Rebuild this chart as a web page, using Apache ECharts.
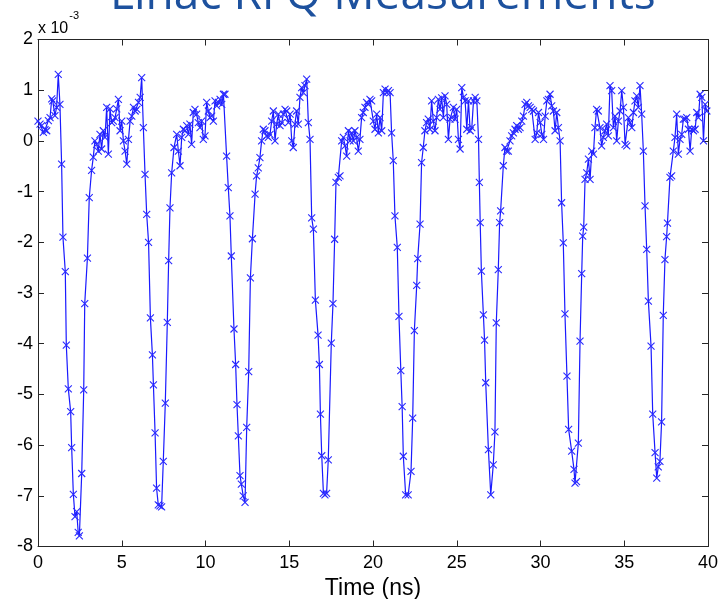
<!DOCTYPE html>
<html>
<head>
<meta charset="utf-8">
<script src="https://cdn.jsdelivr.net/npm/echarts@6/dist/echarts.min.js"></script>
<style>
html,body{margin:0;padding:0;background:#fff;}
#chart{width:720px;height:599px;}
</style>
</head>
<body>
<div id="chart"></div>
<script>
// Time (ns)
const time = [
0.00,0.12,0.22,0.32,0.42,0.52,0.62,0.72,0.82,0.88,1.01,1.11,1.21,1.31,1.41,
1.49,1.63,1.69,1.81,1.95,2.01,2.11,2.21,2.31,2.40,2.47,2.61,2.73,2.79,2.95,3.06,
3.20,3.30,3.40,3.50,3.60,3.70,3.80,3.90,4.00,4.10,4.20,4.30,4.40,4.50,4.60,4.70,4.80,4.90,5.00,5.10,5.20,5.30,5.40,5.50,5.60,5.70,5.80,5.90,6.00,6.10,6.19,6.29,6.39,6.49,
6.60,6.71,6.83,6.89,6.99,7.08,7.18,7.28,7.38,7.48,7.60,7.72,7.80,7.88,7.98,
8.12,8.28,8.38,8.48,8.58,8.68,8.78,8.88,8.98,9.07,9.17,9.27,9.37,9.47,9.57,9.67,9.77,9.87,9.97,10.07,10.17,10.27,10.37,10.47,10.57,10.67,10.77,10.87,10.97,11.07,11.16,11.26,11.36,11.46,
11.54,11.70,11.80,11.88,11.96,12.06,12.14,12.25,12.36,12.46,12.58,12.68,12.80,12.96,
13.05,13.15,13.25,13.35,13.45,13.55,13.65,13.75,13.85,13.95,14.05,14.15,14.25,14.35,14.45,14.55,14.65,14.75,14.85,14.95,15.05,15.15,15.24,15.34,15.44,15.54,15.64,15.74,15.84,15.94,16.04,16.14,16.24,16.34,16.44,
16.56,16.72,16.80,16.86,16.94,17.04,17.13,17.23,17.33,17.51,17.61,17.71,17.79,
17.93,18.03,18.13,18.23,18.33,18.43,18.53,18.63,18.73,18.83,18.92,19.02,19.12,19.22,19.32,19.42,19.52,19.62,19.72,19.82,19.92,20.02,20.12,20.22,20.32,20.42,20.52,20.62,20.72,20.82,20.92,21.02,21.11,21.21,21.31,21.45,
21.55,21.66,21.74,21.81,21.95,22.10,22.27,22.37,22.47,22.61,22.67,22.81,22.90,
23.00,23.10,23.20,23.30,23.40,23.50,23.60,23.70,23.80,23.90,24.00,24.10,24.20,24.30,24.40,24.50,24.60,24.70,24.80,24.90,25.00,25.10,25.20,25.30,25.40,25.50,25.60,25.70,25.80,25.90,26.00,26.10,26.20,26.30,26.35,26.40,
26.47,26.59,26.66,26.73,26.89,27.03,27.18,27.28,27.36,27.48,27.56,27.62,27.78,
27.88,27.98,28.08,28.18,28.28,28.38,28.48,28.58,28.68,28.78,28.88,28.98,29.08,29.18,29.28,29.38,29.48,29.58,29.68,29.78,29.88,29.98,30.08,30.18,30.28,30.38,30.47,30.57,30.67,30.77,30.87,30.97,31.07,31.17,31.26,31.36,
31.46,31.58,31.68,31.86,32.00,32.06,32.15,32.26,32.36,32.46,32.52,32.58,32.66,
32.76,32.86,32.96,33.06,33.16,33.25,33.35,33.45,33.55,33.65,33.75,33.85,33.95,34.05,34.15,34.25,34.35,34.45,34.55,34.65,34.75,34.85,34.95,35.05,35.15,35.25,35.35,35.45,35.55,35.64,35.74,35.84,35.94,36.04,36.14,36.24,36.34,
36.44,36.60,36.70,36.84,36.94,37.03,37.13,37.23,37.33,37.43,37.53,37.58,37.73,
37.83,37.93,38.03,38.13,38.23,38.33,38.43,38.53,38.63,38.73,38.83,38.93,39.03,39.13,39.23,39.33,39.43,39.53,39.63,39.73,39.83,39.93
];
// Signal (x 10^-3)
const signal = [
0.39,0.33,0.30,0.17,0.22,0.20,0.40,0.46,0.83,0.79,0.50,0.66,1.31,0.72,-0.46,
-1.90,-2.58,-4.03,-4.89,-5.34,-6.05,-6.97,-7.41,-7.31,-7.72,-7.79,-6.56,-4.91,-3.21,-2.31,-1.12,
-0.58,-0.32,0.00,-0.07,-0.20,0.13,-0.16,0.20,0.07,0.66,-0.26,0.63,0.36,0.39,0.46,0.63,0.82,0.20,0.39,0.00,-0.20,-0.46,0.03,0.39,0.49,0.66,0.59,0.62,0.76,0.86,1.25,0.26,-0.66,-1.45,
-2.00,-3.49,-4.22,-4.81,-5.76,-6.85,-7.18,-7.20,-7.22,-6.32,-5.17,-3.58,-2.36,-1.32,-0.63,
-0.13,0.13,-0.20,-0.49,0.07,0.23,0.20,0.30,0.13,0.33,-0.07,0.56,0.62,0.53,0.36,0.26,0.39,0.03,0.10,0.76,0.59,0.46,0.49,0.39,0.79,0.69,0.76,0.82,0.72,0.92,0.92,-0.30,-0.92,-1.48,
-2.27,-3.71,-4.41,-5.20,-5.82,-6.60,-6.77,-7.00,-7.13,-5.65,-4.55,-2.70,-1.93,-1.05,
-0.69,-0.53,-0.33,0.00,0.23,0.20,0.10,0.07,0.13,0.39,0.59,0.00,0.33,0.53,0.30,0.36,0.53,0.62,0.59,0.36,0.53,0.00,-0.13,0.33,0.59,0.33,0.86,1.05,0.95,1.09,1.22,0.36,0.03,-1.52,-1.74,
-3.14,-3.83,-4.41,-5.39,-6.21,-6.95,-6.98,-6.95,-6.29,-3.99,-3.21,-1.94,-0.82,
-0.72,-0.69,0.00,0.07,-0.10,-0.30,0.20,0.00,0.16,0.00,0.20,0.07,-0.20,0.03,0.46,0.56,0.66,0.76,0.72,0.82,0.79,0.39,0.23,0.53,0.16,0.46,0.20,0.95,1.02,0.95,0.99,0.95,0.16,-0.39,-1.48,-2.10,
-3.46,-4.53,-5.24,-6.22,-6.98,-6.98,-6.52,-5.47,-3.74,-2.85,-2.32,-1.64,-0.43,
-0.13,0.20,0.36,0.43,0.23,0.79,0.39,0.20,0.46,0.82,0.62,0.85,0.46,0.89,0.72,0.03,0.43,0.46,0.66,0.43,0.62,0.03,-0.16,1.05,0.86,0.79,0.23,0.79,0.20,0.26,0.79,0.86,0.79,0.03,-0.82,-1.61,
-2.57,-3.43,-3.93,-4.77,-6.09,-6.98,-6.39,-5.74,-3.59,-2.54,-1.61,-1.38,-0.49,
-0.13,-0.20,-0.20,0.00,0.10,0.16,0.23,0.30,0.23,0.26,0.39,0.49,0.72,0.76,0.69,0.66,0.62,0.59,0.03,0.16,0.56,0.36,0.13,0.03,0.49,0.79,0.82,0.92,0.69,0.59,0.20,0.56,0.26,0.00,-1.22,-2.01,
-3.41,-4.64,-5.69,-6.12,-6.48,-6.75,-6.72,-5.96,-3.95,-2.62,-1.88,-1.70,-0.76,
-0.63,-0.36,-0.76,-0.20,-0.26,0.26,0.62,0.59,0.26,-0.10,0.07,0.20,0.33,0.10,1.09,0.99,0.26,0.49,0.00,0.39,0.59,0.99,0.66,-0.07,-0.10,0.46,0.36,0.26,0.56,0.79,0.89,0.66,1.09,0.53,-0.20,-1.28,-2.14,
-3.16,-4.05,-5.39,-6.15,-6.65,-6.43,-6.32,-5.54,-3.44,-2.34,-1.89,-1.62,-0.72,
-0.69,-0.20,0.07,0.53,-0.26,0.03,0.13,0.43,0.43,0.46,0.23,-0.20,0.23,0.20,0.23,0.56,0.46,0.92,0.86,0.00,0.72,0.59
];
const xTicks = [0, 5, 10, 15, 20, 25, 30, 35, 40];
const yTicks = [-8, -7, -6, -5, -4, -3, -2, -1, 0, 1, 2];
const titleText = 'Linac RFQ Measurements';
const xLabel = 'Time (ns)';

const data = time.map((t, i) => [t, signal[i]]);
const chart = echarts.init(document.getElementById('chart'));
const axisCol = '#262626';
const labelFont = {color: '#000', fontFamily: 'Liberation Sans, Arial, sans-serif', fontSize: 18};
const common = {
  axisLine: {show: true, onZero: false, lineStyle: {color: axisCol, width: 1}},
  axisTick: {show: true, inside: true, length: 6, lineStyle: {color: axisCol}},
  splitLine: {show: false}
};
chart.setOption({
  animation: false,
  backgroundColor: '#fff',
  grid: {left: 38, right: 12, top: 39.5, bottom: 52.5, containLabel: false, outerBoundsMode: 'none'},
  xAxis: [
    Object.assign({type: 'value', min: xTicks[0], max: xTicks[xTicks.length-1], interval: 5, position: 'bottom',
      name: xLabel, nameLocation: 'middle', nameGap: 31,
      nameTextStyle: {color: '#000', fontFamily: 'Liberation Sans, Arial, sans-serif', fontSize: 23},
      axisLabel: Object.assign({margin: 8}, labelFont)}, common),
    Object.assign({type: 'value', min: xTicks[0], max: xTicks[xTicks.length-1], interval: 5, position: 'top',
      axisLabel: {show: false}}, common)
  ],
  yAxis: [
    Object.assign({type: 'value', min: yTicks[0], max: yTicks[yTicks.length-1], interval: 1, position: 'left',
      axisLabel: Object.assign({margin: 5}, labelFont)}, common),
    Object.assign({type: 'value', min: yTicks[0], max: yTicks[yTicks.length-1], interval: 1, position: 'right',
      axisLabel: {show: false}}, common)
  ],
  graphic: [
    {type: 'text', left: 110, top: -27, style: {text: titleText, fill: '#1d519e',
      font: '46px "Open Sans", sans-serif'}, silent: true},
    {type: 'text', left: 38, top: 10, style: {text: '{a|x 10}{b|-3}', rich: {
      a: {fontSize: 16, fontFamily: 'Liberation Sans, Arial', fill: '#000', color: '#000', padding: [11,0,0,0]},
      b: {fontSize: 11, fontFamily: 'Liberation Sans, Arial', fill: '#000', color: '#000', verticalAlign: 'top', padding: [0,0,0,1]}
    }}, silent: true}
  ],
  series: [{
    type: 'line',
    data: data,
    showSymbol: true,
    symbol: 'path://M0,0L10,10M10,0L0,10',
    symbolSize: 7,
    lineStyle: {color: '#1a1aff', width: 1.2},
    itemStyle: {color: 'rgba(0,0,0,0)', borderColor: '#2a2aff', borderWidth: 1.1},
    emphasis: {disabled: true}
  }]
});
</script>
</body>
</html>
